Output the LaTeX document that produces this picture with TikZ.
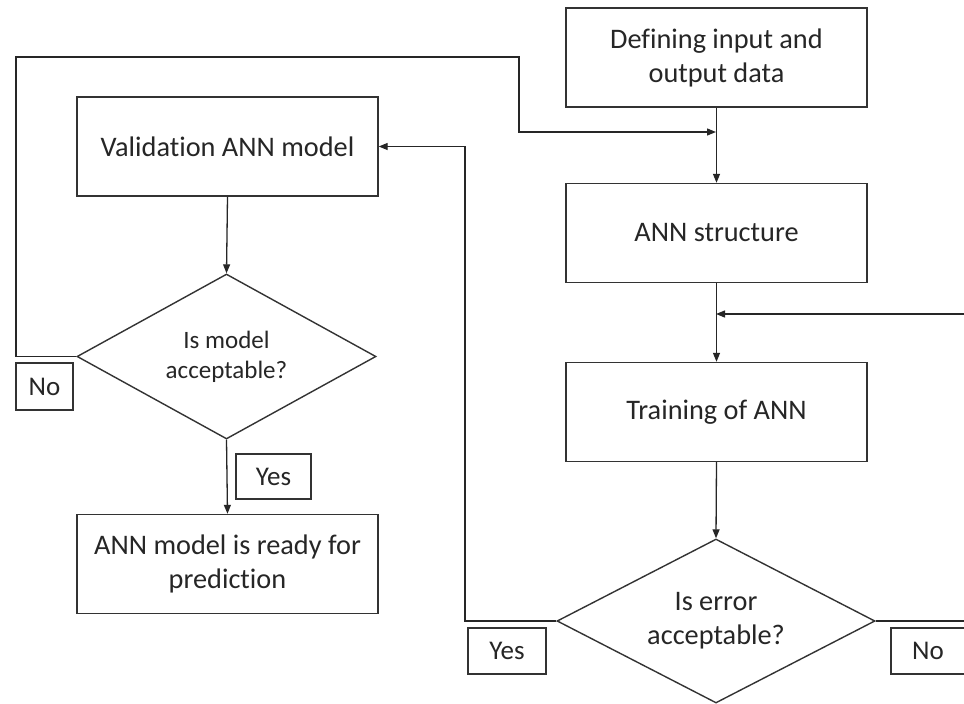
\documentclass[tikz,border=0pt]{standalone}
\usepackage{fontspec}
\setmainfont{Carlito}[Ligatures={NoCommon}]
\usetikzlibrary{arrows.meta,shapes.geometric}
\begin{document}
\begin{tikzpicture}[x=1pt,y=-1pt,
  every node/.style={font=\fontsize{28.3}{34}\selectfont, text=black!85},
  box/.style={draw=black!80, line width=1.4pt, rectangle, inner sep=0pt, minimum width=301pt, minimum height=99pt, align=center},
  tag/.style={draw=black!80, line width=1.4pt, rectangle, inner sep=0pt, minimum height=46pt, font=\fontsize{27}{32}\selectfont},
  dec/.style={draw=black!80, line width=1.4pt, diamond, aspect=1.94, inner sep=0pt, align=center},
  conn/.style={draw=black!85, line width=1.3pt},
  arr/.style={conn, -{Triangle[length=9pt,width=7pt]}}
]
\clip (0,0) rectangle (964,704);
\fill[white] (0,0) rectangle (964,704);

\node[box] (def) at (716.5,57.5) {Defining input and\\output data};
\node[box] (struct) at (716.5,233) {ANN structure};
\node[box] (train) at (716.5,412) {Training of ANN};
\node[dec, minimum width=318pt, minimum height=164pt] (err) at (716,621) {Is error\\acceptable?};
\node[box] (valid) at (227.5,146.5) {Validation ANN model};
\node[dec, minimum width=299pt, minimum height=165pt, font=\fontsize{25}{30}\selectfont] (model) at (226.5,356.5) {Is model\\acceptable?};
\node[box] (ready) at (227.5,564) {ANN model is ready for\\prediction};

\node[tag, minimum width=75pt, minimum height=45pt] (yes1) at (273.5,476.5) {Yes};
\node[tag, minimum width=57pt, minimum height=47pt] (no1) at (44.5,386.5) {No};
\node[tag, minimum width=78pt] (yes2) at (507,651) {Yes};
\node[tag, minimum width=74pt] (no2) at (928,651) {No};

\coordinate (joinL) at (716,132);
\coordinate (joinR) at (716,314);

\draw[arr] (def.south) -- (struct.north);
\draw[arr] (struct.south) -- (train.north);
\draw[arr] (train.south) -- (err.north);
\draw[arr] (valid.south) -- (model.north);
\draw[arr] (model.south) -- (ready.north);

\draw[arr] (err.east) -- (975,621) |- (joinR);
\draw[arr] (err.west) -- (465,621) |- (valid.east);
\draw[arr] (model.west) -- (16,356.5) -- (16,57) -- (519,57) |- (joinL);
\end{tikzpicture}
\end{document}
